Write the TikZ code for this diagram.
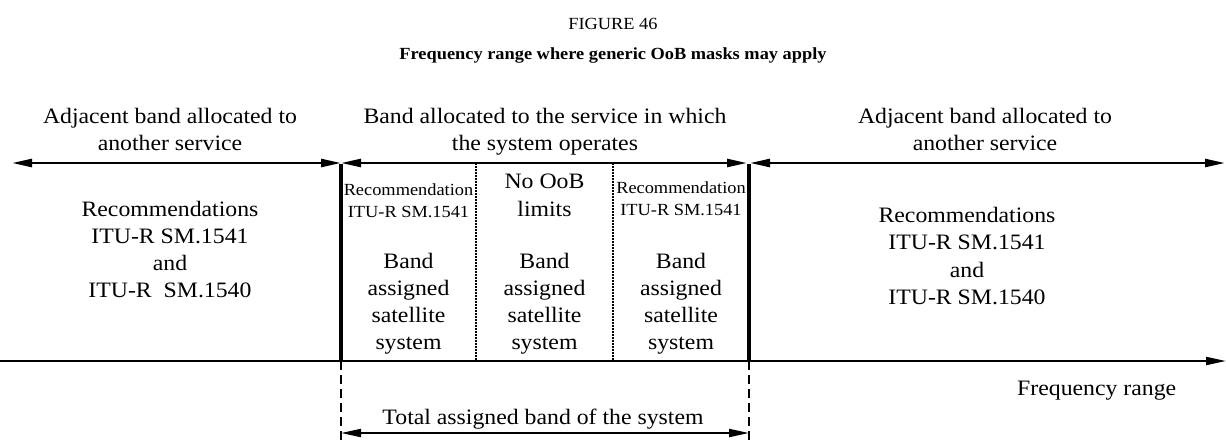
\documentclass[tikz,border=0pt]{standalone}
\usepackage{fontspec}
\setmainfont{Liberation Serif}[FakeStretch=1.08]
\usetikzlibrary{arrows.meta}
\tikzset{
  big/.style={inner sep=0pt, anchor=base, font=\fontsize{22}{27}\selectfont},
  small/.style={inner sep=0pt, anchor=base, font=\fontsize{17}{21}\selectfont},
  ttl/.style={inner sep=0pt, anchor=base, font=\fontsize{17}{21}\selectfont},
  dim/.style={line width=2.5pt, {Triangle[length=20pt,width=8pt]}-{Triangle[length=20pt,width=8pt]}},
  axis/.style={line width=2pt, -{Triangle[length=20pt,width=8pt]}},
  thickv/.style={line width=4pt},
  dotv/.style={line width=1.5pt, dash pattern=on 1.5pt off 1.5pt},
  dashv/.style={line width=2pt, dash pattern=on 9pt off 5pt},
}
\begin{document}
\begin{tikzpicture}[x=1pt,y=-1pt]
\useasboundingbox (0,0) rectangle (1226,440);
% title
\node[ttl] (fig) at (613,29) {FIGURE 46};
\node[ttl, font=\fontsize{17}{21}\selectfont\bfseries] (title) at (613,59) {Frequency range where generic OoB masks may apply};
% coordinates
\coordinate (tl) at (12,163);
\coordinate (ta) at (341,163);
\coordinate (tb) at (749,163);
\coordinate (tr) at (1225,163);
\coordinate (d1) at (476,163);
\coordinate (d2) at (613,163);
\coordinate (al) at (0,361);
\coordinate (ar) at (1226,361);
\coordinate (aa) at (341,361);
\coordinate (ab) at (749,361);
\coordinate (e1) at (476,361);
\coordinate (e2) at (613,361);
\coordinate (ba) at (341,440);
\coordinate (bb) at (749,440);
\coordinate (ka) at (341,433);
\coordinate (kb) at (749,433);
% top dimension arrows
\draw[dim] (tl) -- (ta);
\draw[dim] (ta) -- ([xshift=-2pt]tb);
\draw[dim] ([xshift=1pt]tb) -- (tr);
% vertical separators
\draw[thickv] ([yshift=-1pt]ta) -- (aa);
\draw[thickv] ([yshift=-1pt]tb) -- (ab);
\draw[dotv] (d1) -- (e1);
\draw[dotv] (d2) -- (e2);
% axis
\draw[axis] (al) -- (ar);
% dashed
\draw[dashv] (aa) -- (ba);
\draw[dashv] (ab) -- (bb);
\draw[dim, line width=2pt] (ka) -- (kb);
% top labels
\node[big] (la1) at (170,123) {Adjacent band allocated to};
\node[big] (la2) at (170,150) {another service};
\node[big] (ma1) at (545,123) {Band allocated to the service in which};
\node[big] (ma2) at (545,150) {the system operates};
\node[big] (ra1) at (985,123) {Adjacent band allocated to};
\node[big] (ra2) at (985,150) {another service};
% left body
\node[big] (lb1) at (170,216) {Recommendations};
\node[big] (lb2) at (170,243) {ITU-R SM.1541};
\node[big] (lb3) at (170,270) {and};
\node[big] (lb4) at (170,297) {ITU-R\ \ SM.1540};
% right body
\node[big] (rb1) at (967,222) {Recommendations};
\node[big] (rb2) at (967,249.5) {ITU-R SM.1541};
\node[big] (rb3) at (967,277) {and};
\node[big] (rb4) at (967,304.5) {ITU-R SM.1540};
% column 1
\node[small] (c1a) at (408.5,195) {Recommendation};
\node[small] (c1b) at (408.5,217) {ITU-R SM.1541};
\node[big] (c1c) at (408.5,268) {Band};
\node[big] (c1d) at (408.5,295) {assigned};
\node[big] (c1e) at (408.5,322) {satellite};
\node[big] (c1f) at (408.5,349) {system};
% column 2
\node[big] (c2a) at (544.5,188) {No OoB};
\node[big] (c2b) at (544.5,216) {limits};
\node[big] (c2c) at (544.5,268) {Band};
\node[big] (c2d) at (544.5,295) {assigned};
\node[big] (c2e) at (544.5,322) {satellite};
\node[big] (c2f) at (544.5,349) {system};
% column 3
\node[small] (c3a) at (681,193) {Recommendation};
\node[small] (c3b) at (681,215) {ITU-R SM.1541};
\node[big] (c3c) at (681,268) {Band};
\node[big] (c3d) at (681,295) {assigned};
\node[big] (c3e) at (681,322) {satellite};
\node[big] (c3f) at (681,349) {system};
% bottom
\node[big] (tot) at (543,424) {Total assigned band of the system};
\node[big, anchor=base west] (freq) at (1017,395) {Frequency range};
\end{tikzpicture}
\end{document}
